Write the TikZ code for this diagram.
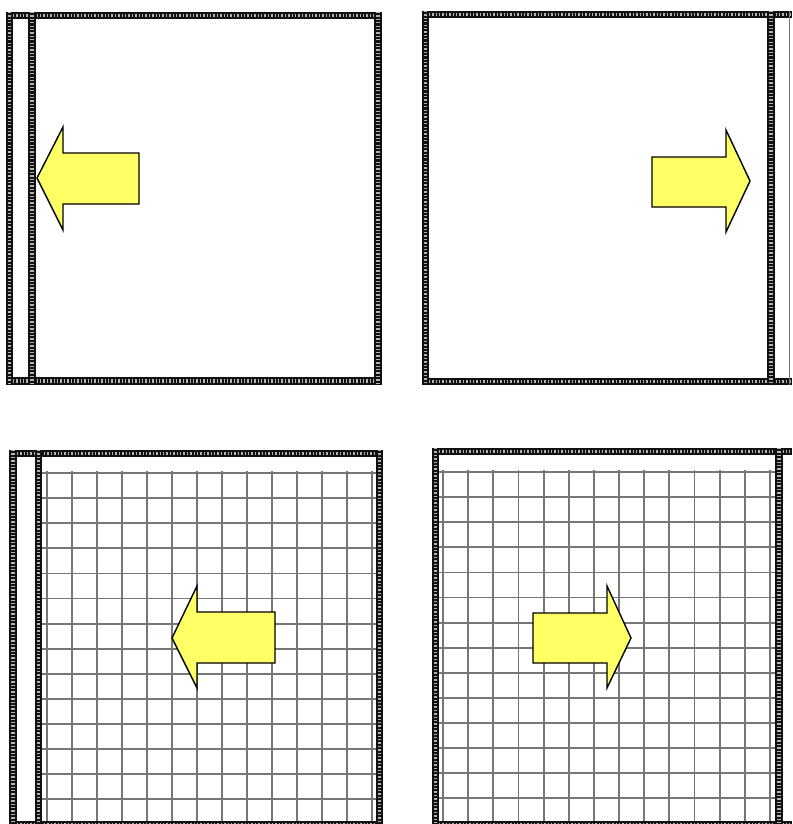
\documentclass[tikz,border=0pt]{standalone}
\usepackage{tikz}
\definecolor{cArrow}{HTML}{FFFF66}
\definecolor{cRail}{HTML}{111111}
\definecolor{cTick}{HTML}{B4B4B4}
\definecolor{cGrid}{HTML}{777777}
\newcommand{\rail}[2]{%
  \draw[rail] #1 -- #2;
  \draw[railtick] #1 -- #2;}

\begin{document}
\begin{tikzpicture}[
    x=1pt, y=-1pt,
    rail/.style={line width=7.5pt, draw=cRail, line cap=butt},
    railtick/.style={line width=3.2pt, draw=cTick, dash pattern=on 1.3pt off 2.1pt},
    gridline/.style={line width=1.8pt, draw=cGrid},
    push/.style={draw=black, line width=1.4pt, fill=cArrow, line join=miter}
]
\useasboundingbox (0,0) rectangle (792,824);
\clip (0,0) rectangle (792,824);

% --- grids (lower panels) ---
\foreach \i in {0,...,13} {
  \draw[gridline] (47+25*\i,471) -- (47+25*\i,824);
  \draw[gridline] (42,473+25.1*\i) -- (376,473+25.1*\i);
  \draw[gridline] (443+25.15*\i,470) -- (443+25.15*\i,824);
  \draw[gridline] (439,472+25.1*\i) -- (776,472+25.1*\i);
}

% --- panel 1: top left ---
\rail{(6,15.5)}{(382,15.5)}
\rail{(6,381)}{(382,381)}
\rail{(9.5,12)}{(9.5,385)}
\rail{(32,12)}{(32,385)}
\rail{(378,12)}{(378,385)}

% --- panel 2: top right ---
\rail{(422,14.5)}{(792,14.5)}
\rail{(422,381.5)}{(792,381.5)}
\rail{(425.5,11)}{(425.5,385)}
\rail{(771,11)}{(771,385)}
\draw[cGrid, line width=1pt] (789,11) -- (789,385);

% --- panel 3: bottom left ---
\rail{(10,453.5)}{(383,453.5)}
\rail{(10,824.5)}{(383,824.5)}
\rail{(13,450)}{(13,824)}
\rail{(38.5,450)}{(38.5,824)}
\rail{(379.5,450)}{(379.5,824)}

% --- panel 4: bottom right ---
\rail{(432,451.5)}{(792,451.5)}
\rail{(432,824.5)}{(792,824.5)}
\rail{(435.5,448)}{(435.5,824)}
\rail{(779,448)}{(779,824)}

% --- arrows ---
\draw[push] (37,178) -- (63,127) -- (63,153) -- (139,153) -- (139,204)
  -- (63,204) -- (63,230) -- cycle;
\draw[push] (750,181) -- (726,130) -- (726,157) -- (652,157) -- (652,207)
  -- (726,207) -- (726,232) -- cycle;
\draw[push] (172,638) -- (197,586) -- (197,612) -- (275,612) -- (275,663)
  -- (197,663) -- (197,688) -- cycle;
\draw[push] (631,638) -- (607,586) -- (607,613) -- (533,613) -- (533,663)
  -- (607,663) -- (607,688) -- cycle;

\end{tikzpicture}
\end{document}
